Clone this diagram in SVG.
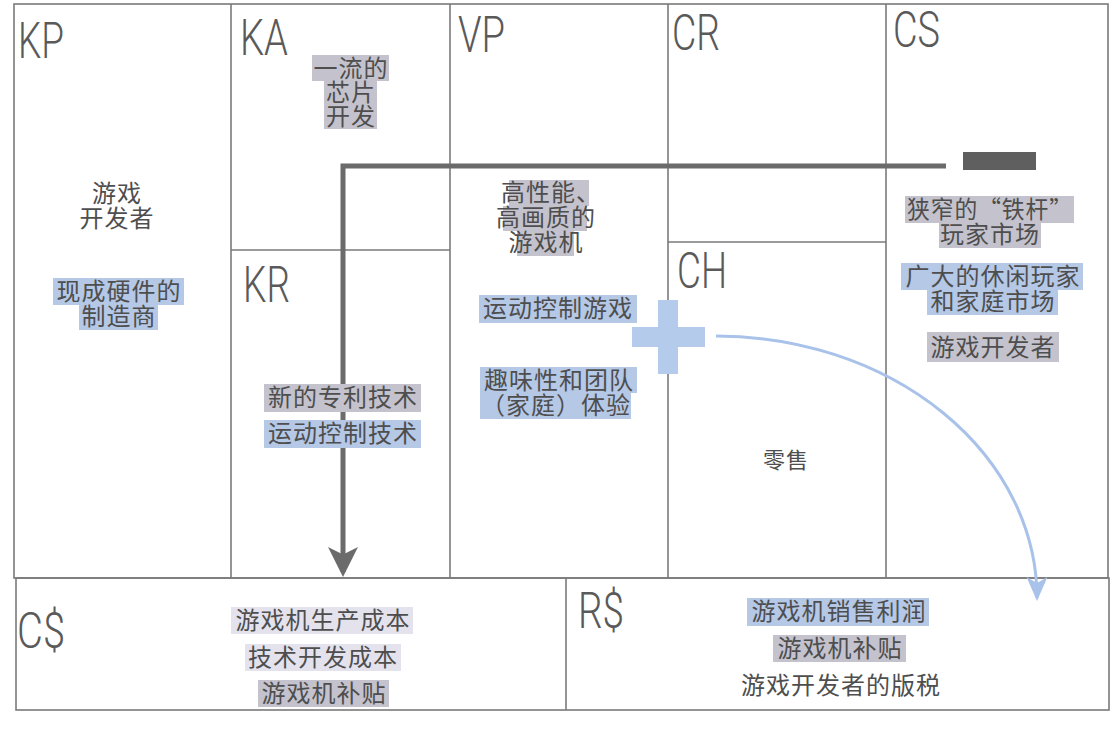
<svg xmlns="http://www.w3.org/2000/svg" width="1114" height="734" viewBox="0 0 1114 734">
<defs>
<style>
.frame{fill:none;stroke:#7a7a7a;stroke-width:1.6}
.lbl{font-family:Roboto,"Liberation Sans",sans-serif;font-weight:300;font-size:50px;fill:#5a5a5a}
.t{font-family:"Noto Sans CJK SC",sans-serif;font-size:24px;letter-spacing:1px;fill:#4e4e4e;text-anchor:middle}
.g{fill:#c4c3cd}
.b{fill:#b5c8e6}
.l{fill:#e4e3ed}
</style>
<marker id="ag" markerWidth="6" markerHeight="6" refX="5" refY="3" orient="auto" markerUnits="strokeWidth"><path d="M0,0 L6,3 L0,6 L1.5,3 Z" fill="#6b6b6b"/></marker>
<marker id="ab" markerWidth="8" markerHeight="8" refX="7" refY="4" orient="auto" markerUnits="strokeWidth"><path d="M0,0.5 L8,4 L0,7.5 L2,4 Z" fill="#a9c2ea"/></marker>
</defs>
<rect width="1114" height="734" fill="#ffffff"/>
<g id="grid">
<rect class="frame" x="14" y="4" width="1094" height="574"/>
<rect class="frame" x="16" y="578" width="1093" height="132"/>
<line class="frame" x1="231" y1="4" x2="231" y2="578"/>
<line class="frame" x1="450" y1="4" x2="450" y2="578"/>
<line class="frame" x1="668" y1="4" x2="668" y2="578"/>
<line class="frame" x1="886" y1="4" x2="886" y2="578"/>
<line class="frame" x1="231" y1="250" x2="450" y2="250"/>
<line class="frame" x1="668" y1="242" x2="886" y2="242"/>
<line class="frame" x1="566" y1="578" x2="566" y2="710"/>
</g>
<g id="connectors">
<rect x="963" y="152" width="73" height="18" fill="#5f5f5f"/>
<path d="M946,166 L343,166 L343,572" fill="none" stroke="#6b6b6b" stroke-width="5" marker-end="url(#ag)"/>
<g id="plus" fill="#b5cbec">
<rect x="632" y="327" width="73" height="20"/>
<rect x="658" y="300" width="20" height="74"/>
</g>
<path d="M716,336 A321 262 0 0 1 1037,598" fill="none" stroke="#a9c2ea" stroke-width="3" marker-end="url(#ab)"/>
</g>
<g id="KP">
<text class="lbl" x="18" y="58" textLength="46" lengthAdjust="spacingAndGlyphs">KP</text>
<text class="t" x="117" y="202">游戏<tspan x="117" dy="25">开发者</tspan></text>
<rect class="b" x="53" y="278" width="131" height="27"/>
<rect class="b" x="79" y="305" width="79" height="25"/>
<text class="t" x="119" y="300">现成硬件的<tspan x="119" dy="25">制造商</tspan></text>
</g>
<g id="KA">
<text class="lbl" x="240" y="55" textLength="48" lengthAdjust="spacingAndGlyphs">KA</text>
<rect class="g" x="312" y="55" width="77" height="26"/>
<rect class="g" x="324" y="81" width="53" height="48"/>
<text class="t" x="351" y="77">一流的<tspan x="351" dy="24">芯片</tspan><tspan x="351" dy="24">开发</tspan></text>
</g>
<g id="KR">
<text class="lbl" x="243" y="302" textLength="47" lengthAdjust="spacingAndGlyphs">KR</text>
<rect class="g" x="264" y="384" width="157" height="28"/>
<rect class="b" x="264" y="420" width="157" height="28"/>
<text class="t" x="343" y="406">新的专利技术</text>
<text class="t" x="343" y="442">运动控制技术</text>
</g>
<g id="VP">
<text class="lbl" x="458" y="52" textLength="47" lengthAdjust="spacingAndGlyphs">VP</text>
<rect class="g" x="509" y="180" width="80" height="26"/>
<rect class="g" x="503" y="206" width="84" height="25"/>
<rect class="g" x="517" y="231" width="57" height="25"/>
<text class="t" x="551" y="201">高性能、<tspan x="546" dy="25">高画质的</tspan><tspan x="546" dy="25">游戏机</tspan></text>
<rect class="b" x="479" y="295" width="158" height="28"/>
<text class="t" x="558" y="317">运动控制游戏</text>
<rect class="b" x="480" y="367" width="157" height="26"/>
<rect class="b" x="480" y="393" width="151" height="26"/>
<text class="t" x="559" y="389">趣味性和团队<tspan x="556" dy="25">（家庭）体验</tspan></text>
</g>
<g id="CR">
<text class="lbl" x="672" y="50" textLength="48" lengthAdjust="spacingAndGlyphs">CR</text>
</g>
<g id="CH">
<text class="lbl" x="677" y="288" textLength="50" lengthAdjust="spacingAndGlyphs">CH</text>
<text class="t" x="786" y="468" style="font-size:22px">零售</text>
</g>
<g id="CS">
<text class="lbl" x="893" y="47" textLength="47" lengthAdjust="spacingAndGlyphs">CS</text>
<rect class="g" x="905" y="196" width="169" height="27"/>
<rect class="g" x="939" y="223" width="102" height="25"/>
<text class="t" x="990" y="218"><tspan textLength="166" lengthAdjust="spacingAndGlyphs">狭窄的“铁杆”</tspan><tspan x="990" dy="25">玩家市场</tspan></text>
<rect class="b" x="901" y="263" width="182" height="27"/>
<rect class="b" x="927" y="290" width="131" height="25"/>
<text class="t" x="993" y="285">广大的休闲玩家<tspan x="993" dy="25">和家庭市场</tspan></text>
<rect class="g" x="927" y="332" width="132" height="30"/>
<text class="t" x="993" y="356">游戏开发者</text>
</g>
<g id="Cost">
<text class="lbl" x="17" y="648" textLength="48" lengthAdjust="spacingAndGlyphs">C$</text>
<rect class="l" x="231" y="607" width="182" height="27"/>
<text class="t" x="323" y="629">游戏机生产成本</text>
<rect class="l" x="245" y="644" width="156" height="27"/>
<text class="t" x="323" y="666">技术开发成本</text>
<rect class="g" x="258" y="680" width="131" height="27"/>
<text class="t" x="324" y="702">游戏机补贴</text>
</g>
<g id="Revenue">
<text class="lbl" x="578" y="628" textLength="46" lengthAdjust="spacingAndGlyphs">R$</text>
<rect class="b" x="747" y="598" width="182" height="28"/>
<text class="t" x="839" y="620">游戏机销售利润</text>
<rect class="g" x="773" y="635" width="133" height="27"/>
<text class="t" x="840" y="657">游戏机补贴</text>
<text class="t" x="841" y="694">游戏开发者的版税</text>
</g>
</svg>
